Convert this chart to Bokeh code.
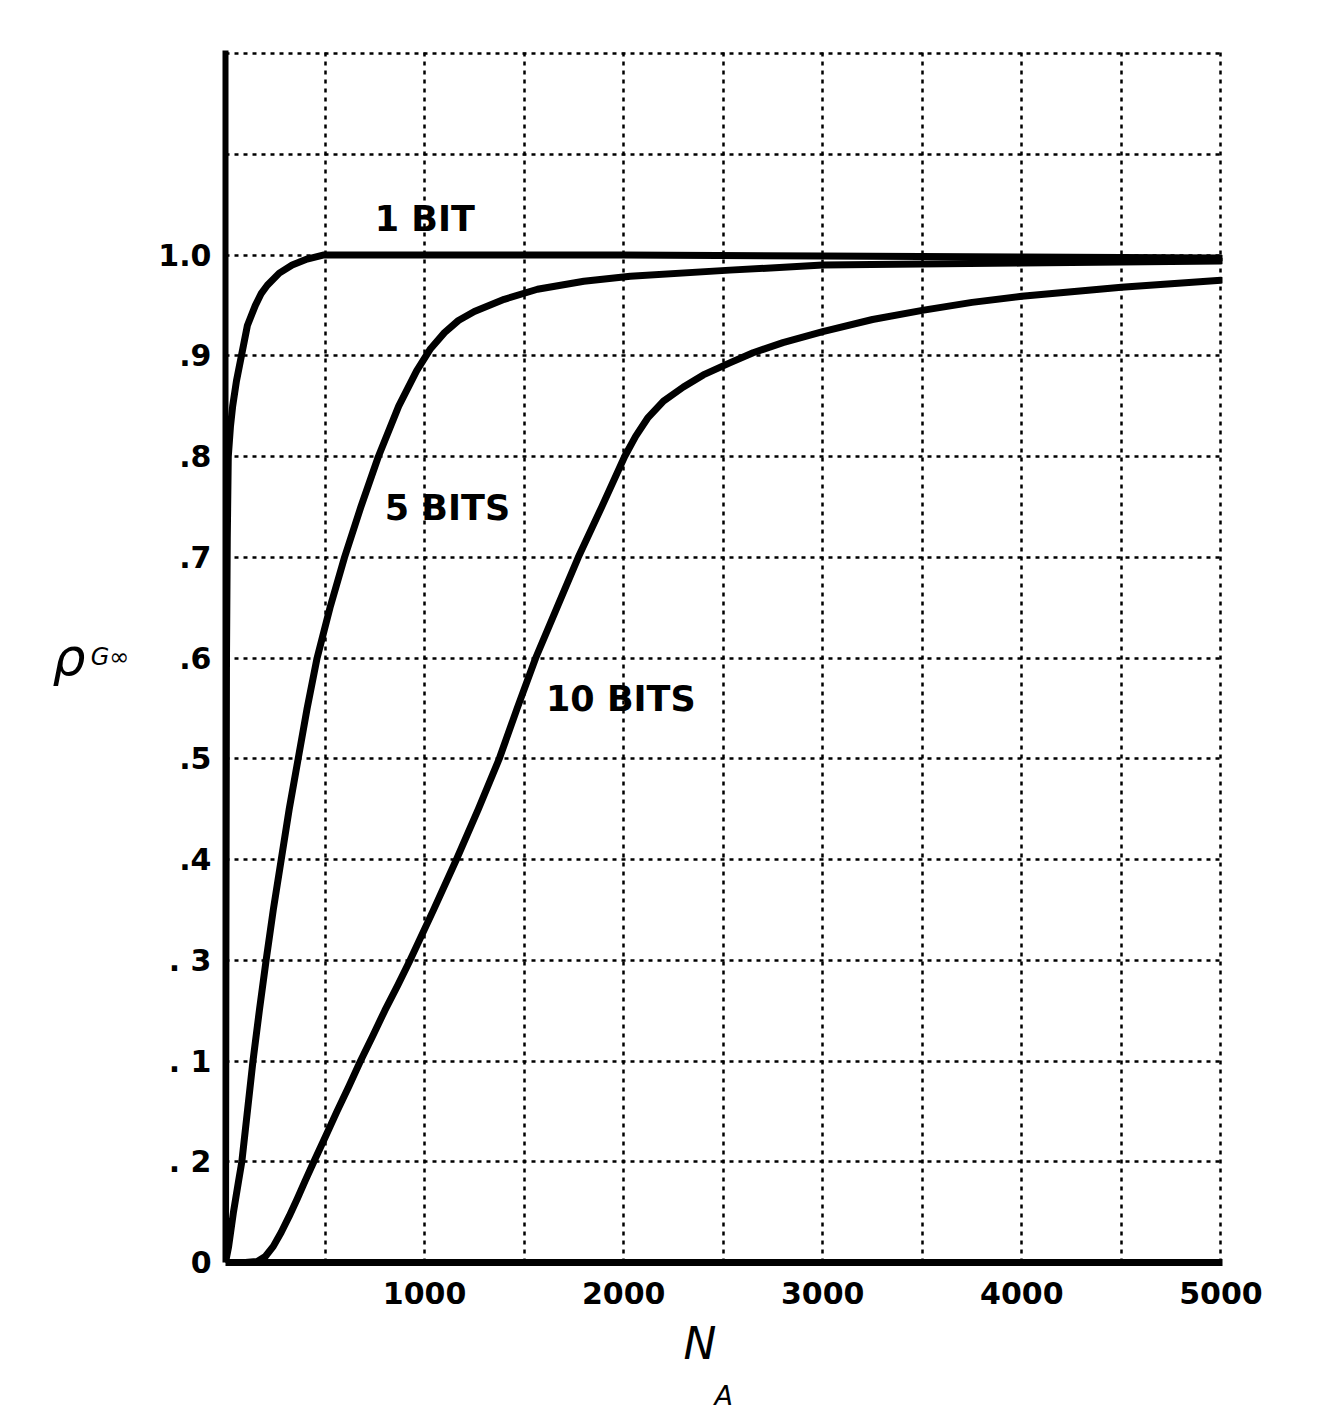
from bokeh.plotting import figure
from bokeh.models import FixedTicker, Label, Range1d, LinearAxis, Title
from bokeh.embed import file_html
from bokeh.resources import INLINE

# ---- data ----
bit1_x = [0, 2, 5, 9, 14, 25, 36, 55, 80, 110, 150, 180, 210, 270, 335, 410, 490, 1000, 2000, 3000, 4000, 5000]
bit1_y = [0, 0.3, 0.6, 0.72, 0.8, 0.83, 0.85, 0.875, 0.9, 0.93, 0.95, 0.962, 0.97, 0.982, 0.99, 0.996, 1.0, 1.0, 1.0, 0.999, 0.998, 0.997]

bit5_x = [0, 15, 40, 65, 82, 110, 138, 170, 204, 240, 280, 320, 365, 410, 460, 525, 598, 680, 768, 870, 960, 1030, 1100, 1170, 1250, 1400, 1567, 1800, 2033, 2533, 3000, 4000, 5000]
bit5_y = [0, 0.015, 0.05, 0.08, 0.1, 0.15, 0.2, 0.25, 0.3, 0.35, 0.4, 0.45, 0.5, 0.55, 0.6, 0.65, 0.7, 0.75, 0.8, 0.85, 0.885, 0.907, 0.923, 0.935, 0.944, 0.956, 0.966, 0.974, 0.979, 0.985, 0.99, 0.992, 0.994]

bit10_x = [0, 100, 160, 200, 240, 280, 320, 360, 400, 439, 500, 560, 620, 678, 740, 800, 865, 927, 1045, 1160, 1270, 1375, 1465, 1558, 1665, 1772, 1890, 2005, 2060, 2120, 2200, 2300, 2400, 2533, 2650, 2800, 3000, 3250, 3500, 3750, 4000, 4500, 5000]
bit10_y = [0, 0, 0.001, 0.006, 0.016, 0.03, 0.046, 0.063, 0.081, 0.098, 0.124, 0.15, 0.175, 0.2, 0.225, 0.25, 0.275, 0.3, 0.35, 0.4, 0.45, 0.5, 0.55, 0.6, 0.65, 0.7, 0.75, 0.8, 0.82, 0.838, 0.855, 0.869, 0.881, 0.893, 0.903, 0.913, 0.924, 0.936, 0.945, 0.953, 0.959, 0.968, 0.975]

y_ticks = [0, 0.1, 0.2, 0.3, 0.4, 0.5, 0.6, 0.7, 0.8, 0.9, 1.0]
y_tick_labels = ["0", ". 2", ". 1", ". 3", ".4", ".5", ".6", ".7", ".8", ".9", "1.0"]
y_grid = [0.1, 0.2, 0.3, 0.4, 0.5, 0.6, 0.7, 0.8, 0.9, 1.0, 1.1, 1.2]
x_ticks = [1000, 2000, 3000, 4000, 5000]
x_grid = [500, 1000, 1500, 2000, 2500, 3000, 3500, 4000, 4500, 5000]

curve_labels = ["1 BIT", "5 BITS", "10 BITS"]
label_x = [750, 800, 1610]
label_y = [1.036, 0.749, 0.559]

FONT = "DejaVu Sans"

p = figure(width=1324, height=1418, output_backend="svg", toolbar_location=None,
           x_range=Range1d(0, 5008), y_range=Range1d(0, 1.203),
           min_border_left=225, min_border_right=102, min_border_top=50, min_border_bottom=156)
p.outline_line_color = None
p.background_fill_color = "white"
p.border_fill_color = "white"

# grid
p.xgrid.ticker = FixedTicker(ticks=x_grid)
p.ygrid.ticker = FixedTicker(ticks=y_grid)
for g in (p.xgrid, p.ygrid):
    g.grid_line_color = "black"
    g.grid_line_width = 2.5
    g.grid_line_dash = "4 5"
    g.grid_line_alpha = 1.0

# axes
p.xaxis.ticker = FixedTicker(ticks=x_ticks)
p.yaxis.ticker = FixedTicker(ticks=y_ticks)
p.yaxis.major_label_overrides = dict(zip(y_ticks, y_tick_labels))
for ax in (p.xaxis, p.yaxis):
    ax.axis_line_color = "black"
    ax.major_tick_line_color = None
    ax.minor_tick_line_color = None
    ax.major_tick_out = 0
    ax.major_tick_in = 0
    ax.major_label_text_font = FONT
    ax.major_label_text_font_style = "bold"
    ax.major_label_text_font_size = "30px"
    ax.major_label_text_color = "black"
    ax.axis_label_text_font = "DejaVu Sans"
    ax.axis_label_text_font_style = "italic"
    ax.axis_label_text_color = "black"
p.yaxis.axis_line_width = 6
p.xaxis.axis_line_width = 7
p.yaxis.major_label_standoff = 14
p.xaxis.major_label_standoff = 19

# y title: subscript "G∞" next to tick labels, "ρ" on an outer bare axis
p.yaxis.axis_label = "G∞"
p.yaxis.axis_label_orientation = "horizontal"
p.yaxis.axis_label_text_font_size = "24px"
p.yaxis.axis_label_standoff = 26

rho_axis = LinearAxis(ticker=FixedTicker(ticks=[]), axis_line_color=None,
                      major_tick_line_color=None, minor_tick_line_color=None,
                      major_tick_out=0, major_tick_in=0, major_label_standoff=0,
                      major_label_text_font_size="0px",
                      axis_label="ρ", axis_label_orientation="horizontal",
                      axis_label_standoff=2, axis_label_text_font="DejaVu Sans",
                      axis_label_text_font_style="italic", axis_label_text_font_size="52px",
                      axis_label_text_color="black")
p.add_layout(rho_axis, "left")

# x title: "N" with subscript "A", as two titles under the axis
p.add_layout(Title(text="N", align="left", offset=458, standoff=18,
                   text_font="DejaVu Sans", text_font_style="italic",
                   text_font_size="44px", text_color="black"), "below")
p.add_layout(Title(text="A", align="left", offset=489, standoff=0,
                   text_font="DejaVu Sans", text_font_style="italic",
                   text_font_size="27px", text_color="black"), "below")

# curves
for xs, ys in ((bit1_x, bit1_y), (bit5_x, bit5_y), (bit10_x, bit10_y)):
    p.line(xs, ys, line_color="black", line_width=7, line_join="round", line_cap="round")

# curve labels
for t, lx, ly in zip(curve_labels, label_x, label_y):
    p.add_layout(Label(x=lx, y=ly, text=t, text_font=FONT, text_font_style="bold",
                       text_font_size="35px", text_baseline="middle", text_align="left",
                       text_color="black"))

open("out.html", "w").write(file_html(p, INLINE))
